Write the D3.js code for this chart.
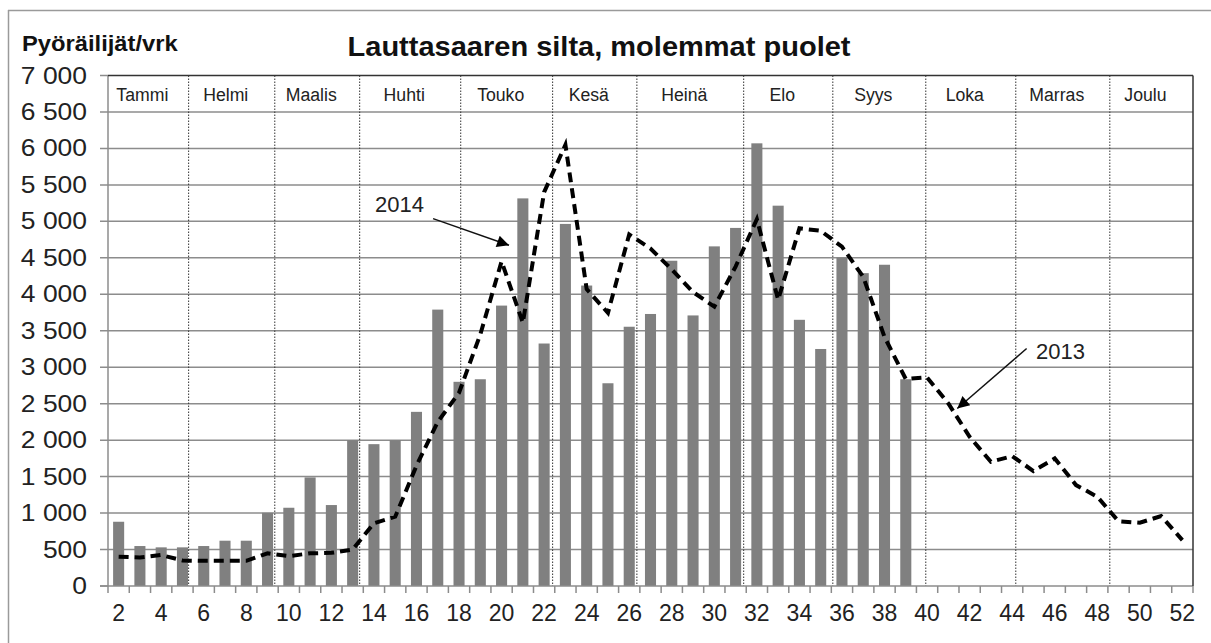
<!DOCTYPE html>
<html><head><meta charset="utf-8">
<script src="https://cdn.jsdelivr.net/npm/d3@7"></script>
<style>
html,body{margin:0;padding:0;background:#fff;}
svg{display:block;font-family:"Liberation Sans",Arial,sans-serif;}
</style></head>
<body><svg id="c" width="1211" height="643"></svg>
<script>
// ---- data ----
const weeks = [2,3,4,5,6,7,8,9,10,11,12,13,14,15,16,17,18,19,20,21,22,23,24,25,26,27,28,29,30,31,32,33,34,35,36,37,38,39,40,41,42,43,44,45,46,47,48,49,50,51,52];
const weeks2014 = [2,3,4,5,6,7,8,9,10,11,12,13,14,15,16,17,18,19,20,21,22,23,24,25,26,27,28,29,30,31,32,33,34,35,36,37,38,39];
const bars2014 = [881,548,530,530,548,621,621,1004,1073,1489,1110,2000,1945,2000,2388,3790,2800,2835,3845,5315,3325,4965,4120,2780,3555,3730,4460,3710,4657,4910,6070,5215,3650,3250,4505,4290,4405,2835];
const line2013 = [402,390,425,350,345,345,345,448,410,448,455,500,860,950,1650,2250,2650,3450,4450,3610,5400,6050,4070,3745,4820,4626,4340,4030,3830,4380,5030,3925,4905,4870,4653,4238,3415,2838,2860,2503,2046,1703,1781,1576,1749,1384,1224,888,867,959,630];
const xTickLabels = [2,4,6,8,10,12,14,16,18,20,22,24,26,28,30,32,34,36,38,40,42,44,46,48,50,52];
const yTicks = [0,500,1000,1500,2000,2500,3000,3500,4000,4500,5000,5500,6000,6500,7000];
const months = ["Tammi","Helmi","Maalis","Huhti","Touko","Kesä","Heinä","Elo","Syys","Loka","Marras","Joulu"];
// month boundaries in week units (start of band n = n)
const monthEdges = [2,5.79,9.84,13.83,18.58,22.9,26.86,31.88,36.07,40.44,44.67,49.09,53];
const title = "Lauttasaaren silta, molemmat puolet";
const yTitle = "Pyöräilijät/vrk";
// annotations in data units: label text anchor, arrow start, arrow tip (week, value)
const annoLabels = ["2014","2013"];
const annoText = [[14.55,5128],[45.62,3106]];
const annoFrom = [[17.28,5037],[45.18,3256]];
const annoTip = [[20.85,4672],[41.92,2434]];

// ---- layout ----
const L=108, R=1193, T=75.5, B=586;
const svg = d3.select("#c");
const x = d3.scaleBand().domain(weeks).range([L,R]).paddingInner(0.48).paddingOuter(0.24);
const xc = d3.scaleLinear().domain([2,53]).range([L,R]);
const y = d3.scaleLinear().domain([0,7000]).range([B,T]);
const fmt = v => d3.format(",")(v).replace(/,/g," ");

function stxt(g,tx,ty,s,sx,opts){
  const t=g.append("text").attr("transform",`translate(${tx},${ty}) scale(${sx},1)`).text(s);
  for(const k in opts) t.attr(k,opts[k]);
  return t;
}

// outer frame
svg.append("line").attr("x1",8.5).attr("x2",8.5).attr("y1",10).attr("y2",643).attr("stroke","#9a9a9a").attr("stroke-width",1.5);
svg.append("line").attr("x1",8).attr("x2",1211).attr("y1",10.5).attr("y2",10.5).attr("stroke","#9a9a9a").attr("stroke-width",1.5);

// gridlines
svg.append("g").selectAll("line").data(yTicks.filter(v=>v>0 && v<7000)).join("line")
  .attr("x1",L-8).attr("x2",R).attr("y1",d=>y(d)).attr("y2",d=>y(d))
  .attr("stroke","#8c8c8c").attr("stroke-width",1.5);
svg.append("g").selectAll("line").data([0,7000]).join("line")
  .attr("x1",L-8).attr("x2",L).attr("y1",d=>y(d)).attr("y2",d=>y(d))
  .attr("stroke","#8c8c8c").attr("stroke-width",1.5);

// month separators (dotted)
svg.append("g").selectAll("line").data(monthEdges.slice(1,-1)).join("line")
  .attr("x1",d=>xc(d)).attr("x2",d=>xc(d)).attr("y1",T).attr("y2",B)
  .attr("stroke","#333").attr("stroke-width",1).attr("stroke-dasharray","1.5,1.5");

// bars
svg.append("g").selectAll("rect").data(weeks2014.map((w,i)=>({w,v:bars2014[i]}))).join("rect")
  .attr("x",d=>x(d.w)).attr("width",x.bandwidth()).attr("y",d=>y(d.v)).attr("height",d=>y(0)-y(d.v))
  .attr("fill","#808080");

// axes lines
svg.append("line").attr("x1",L).attr("x2",L).attr("y1",T).attr("y2",B).attr("stroke","#8c8c8c").attr("stroke-width",1.5);
svg.append("line").attr("x1",L-8).attr("x2",R).attr("y1",B).attr("y2",B).attr("stroke","#8c8c8c").attr("stroke-width",1.5);
svg.append("line").attr("x1",L).attr("x2",R).attr("y1",T).attr("y2",T).attr("stroke","#333").attr("stroke-width",1.5);
svg.append("line").attr("x1",R).attr("x2",R).attr("y1",T).attr("y2",B).attr("stroke","#333").attr("stroke-width",1.5);

// x ticks at band boundaries
const bounds = weeks.map(w=>x(w)-x.step()*x.paddingInner()/2).concat([R]);
bounds[0]=L;
svg.append("g").selectAll("line").data(bounds).join("line")
  .attr("x1",d=>d).attr("x2",d=>d).attr("y1",B).attr("y2",B+7)
  .attr("stroke","#8c8c8c").attr("stroke-width",1.5);

// line 2013
const ln = d3.line().x((d,i)=>x(weeks[i])+x.bandwidth()/2).y(d=>y(d));
svg.append("path").datum(line2013).attr("d",ln).attr("fill","none")
  .attr("stroke","#000").attr("stroke-width",4).attr("stroke-dasharray","10,6");

// y labels
const gy = svg.append("g").attr("font-size",23).attr("fill","#222");
yTicks.forEach(v=>{ stxt(gy,87,y(v)+8,fmt(v),1.15,{"text-anchor":"end"}); });

// x labels
const gx = svg.append("g").attr("font-size",23).attr("fill","#222");
xTickLabels.forEach(w=>{ stxt(gx,x(w)+x.bandwidth()/2,621,String(w),1.0,{"text-anchor":"middle"}); });

// month labels
const gm = svg.append("g").attr("font-size",19).attr("fill","#222");
months.forEach((m,i)=>{ stxt(gm,(xc(monthEdges[i])+xc(monthEdges[i+1]))/2-6,101,m,0.93,{"text-anchor":"middle"}); });

// titles
stxt(svg,599,56,title,1.075,{"text-anchor":"middle","font-size":27,"font-weight":"bold","fill":"#111"});
stxt(svg,22,51,yTitle,1.08,{"font-size":22,"font-weight":"bold","fill":"#111"});

// annotations
const defs = svg.append("defs");
defs.append("marker").attr("id","ah").attr("viewBox","0 0 10 10").attr("refX",10).attr("refY",5)
  .attr("markerWidth",16).attr("markerHeight",12).attr("markerUnits","userSpaceOnUse").attr("orient","auto")
  .append("path").attr("d","M0,0 L10,5 L0,10 z").attr("fill","#000");
annoLabels.forEach((s,i)=>{
  stxt(svg,xc(annoText[i][0]),y(annoText[i][1]),s,1,{"font-size":22,"fill":"#222"});
  svg.append("line").attr("x1",xc(annoFrom[i][0])).attr("y1",y(annoFrom[i][1]))
    .attr("x2",xc(annoTip[i][0])).attr("y2",y(annoTip[i][1]))
    .attr("stroke","#111").attr("stroke-width",1.5).attr("marker-end","url(#ah)");
});
</script></body></html>
